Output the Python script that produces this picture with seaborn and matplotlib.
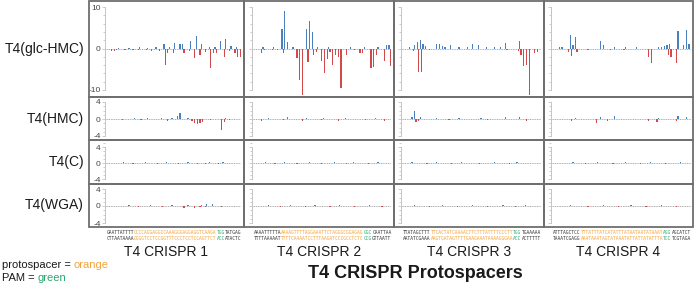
import pandas as pd
import matplotlib
matplotlib.use("Agg")
import matplotlib.pyplot as plt
from matplotlib.patches import Rectangle
from matplotlib.ticker import MultipleLocator
import seaborn as sns

sns.set_theme(style="white")
plt.rcParams["font.family"] = ["Liberation Sans", "DejaVu Sans"]
plt.rcParams["axes.unicode_minus"] = False

N_POS = 50
SAMPLES = ["T4(glc-HMC)", "T4(HMC)", "T4(C)", "T4(WGA)"]
SPACERS = ["T4 CRISPR 1", "T4 CRISPR 2", "T4 CRISPR 3", "T4 CRISPR 4"]

# signal per position, {position: value}; up = blue strand, down = red strand
GLC_UP = [
    {4: 0.2, 8: 0.2, 12: 0.3, 15: 0.2, 18: 0.4, 21: 1.2, 23: 0.4, 25: 1.3, 27: 1.0, 28: 1.1,
     31: 1.9, 33: 3.0, 35: 1.0, 38: 0.3, 40: 0.4, 42: 1.8, 44: 2.3, 46: 0.5, 48: 0.3},
    {3: 0.3, 7: 0.3, 10: 4.7, 11: 9.0, 12: 1.5, 14: 0.4, 19: 4.6, 20: 6.6, 21: 3.9, 23: 0.4,
     27: 0.3, 35: 0.3, 40: 0.4, 45: 0.3, 48: 0.8, 49: 0.8},
    {2: 0.3, 4: 0.8, 5: 1.5, 6: 2.1, 7: 1.0, 8: 0.5, 12: 1.0, 13: 1.0, 14: 0.6, 15: 0.4,
     17: 0.8, 20: 0.3, 23: 0.3, 25: 1.1, 27: 0.8, 30: 0.3, 33: 0.4, 35: 0.4, 37: 1.4, 42: 1.9},
    {2: 0.3, 3: 0.3, 6: 3.3, 7: 0.8, 8: 2.7, 17: 1.9, 18: 0.8, 22: 0.3, 26: 0.3, 30: 0.3,
     38: 0.3, 39: 0.3, 40: 0.5, 41: 0.8, 42: 1.0, 45: 4.1, 47: 0.8, 48: 4.4, 49: 1.0},
]
GLC_DOWN = [
    {1: -0.6, 2: -0.5, 3: -0.3, 6: -0.3, 9: -0.4, 11: -0.3, 14: -0.4, 16: -0.5, 19: -0.6,
     21: -4.0, 22: -1.0, 24: -1.0, 28: -1.0, 30: -0.5, 32: -2.4, 34: -1.5, 36: -0.8,
     38: -4.7, 39: -1.2, 40: -1.0, 43: -2.0, 45: -0.6, 47: -1.0, 48: -2.0, 49: -2.0},
    {2: -1.0, 3: -0.4, 6: -0.3, 8: -0.4, 10: -1.0, 15: -2.2, 16: -7.7, 17: -11.5, 19: -3.3,
     21: -1.5, 22: -0.8, 24: -3.0, 25: -6.0, 26: -2.5, 27: -0.8, 28: -3.9, 29: -1.5,
     30: -2.0, 31: -9.5, 33: -1.5, 36: -0.4, 38: -1.0, 39: -1.0, 42: -4.7, 43: -4.5,
     44: -1.5, 47: -2.9, 49: -4.3},
    {3: -0.5, 5: -5.7, 6: -5.7, 9: -0.3, 37: -0.3, 41: -0.5, 42: -1.5, 43: -4.3, 44: -4.0,
     45: -11.7, 47: -1.0, 48: -0.8},
    {5: -0.8, 6: -1.9, 8: -0.8, 12: -0.3, 20: -0.3, 25: -0.3, 34: -2.1, 35: -3.6, 41: -1.5,
     42: -2.0, 44: -3.4},
]
HMC_UP = [
    {10: 0.2, 15: 0.2, 20: 0.2, 24: 0.3, 26: 0.7, 27: 1.4, 30: 0.3, 44: 0.3},
    {5: 0.3, 12: 0.4, 19: 0.3, 25: 0.3, 33: 0.3, 44: 0.3},
    {3: 0.4, 4: 1.8, 6: 0.4, 12: 0.3, 20: 0.3, 28: 0.3, 37: 0.4, 42: 0.4},
    {8: 0.3, 17: 0.4, 22: 0.6, 38: 0.3, 45: 0.6, 48: 0.4},
]
HMC_DOWN = [
    {5: -0.2, 12: -0.2, 22: -0.4, 31: -0.5, 32: -1.0, 33: -1.1, 34: -1.0, 35: -0.6,
     38: -0.3, 42: -2.5, 43: -0.8, 45: -0.3},
    {2: -0.5, 10: -0.3, 17: -0.4, 24: -0.3, 30: -0.4, 40: -0.3, 47: -0.4},
    {4: -0.6, 5: -0.4, 16: -0.3, 30: -0.3, 44: -0.4},
    {6: -0.4, 15: -1.0, 19: -0.4, 34: -0.5, 37: -0.6, 44: -0.4},
]
C_UP = [
    {6: 0.2, 14: 0.2, 22: 0.2, 30: 0.3, 38: 0.3, 43: 0.2},
    {4: 0.2, 11: 0.2, 20: 0.2, 29: 0.3, 36: 0.2, 45: 0.2},
    {3: 0.2, 12: 0.2, 21: 0.2, 33: 0.2, 41: 0.2},
    {7: 0.2, 16: 0.2, 26: 0.3, 35: 0.2, 46: 0.2},
]
C_DOWN = [
    {9: -0.2, 18: -0.2, 26: -0.3, 33: -0.3, 36: -0.3, 41: -0.2},
    {7: -0.2, 15: -0.2, 24: -0.2, 33: -0.3, 41: -0.2},
    {8: -0.2, 17: -0.2, 27: -0.2, 38: -0.2},
    {11: -0.2, 21: -0.2, 31: -0.3, 40: -0.2},
]
WGA_UP = [
    {8: 0.2, 16: 0.2, 24: 0.3, 30: 0.3, 35: 0.3, 37: 0.4, 39: 0.4},
    {5: 0.2, 13: 0.2, 22: 0.3, 31: 0.2, 42: 0.2},
    {4: 0.2, 14: 0.2, 25: 0.2, 36: 0.2, 44: 0.2},
    {6: 0.2, 18: 0.2, 28: 0.3, 39: 0.2},
]
WGA_DOWN = [
    {11: -0.3, 20: -0.3, 28: -0.4, 32: -0.4, 34: -0.3, 36: -0.3, 42: -0.2},
    {9: -0.2, 18: -0.3, 27: -0.3, 36: -0.3, 46: -0.2},
    {9: -0.2, 19: -0.2, 30: -0.3, 40: -0.2},
    {12: -0.2, 23: -0.3, 33: -0.2, 44: -0.2},
]
ROWS_UP = [GLC_UP, HMC_UP, C_UP, WGA_UP]
ROWS_DOWN = [GLC_DOWN, HMC_DOWN, C_DOWN, WGA_DOWN]
ROW_TICK = [10, 4, 4, 4]

# (flank, protospacer, PAM, flank)
SEQ_TOP = [
    ("GAATTATTTT", "CCCCAGGAGGCCAAAGGGAGGAGGTCAAGA", "TGG", "TATGAG"),
    ("AAAATTTTTA", "AAAAGTTTTAGGAAATTCTAGGGCGGAGAG", "GGC", "CAATTAA"),
    ("TTATAGCTTT", "TTCACTATCAAAACTTCTTTATTTTCCCTT", "TGG", "TGAAAAA"),
    ("ATTTAGCTCC", "TTTATTTATCATATTTATAATAATATAAAT", "AGG", "AGCATCT"),
]
SEQ_BOT = [
    ("CTTAATAAAA", "GGGGTCCTCCGGTTTCCCTCCTCCAGTTCT", "ACC", "ATACTC"),
    ("TTTTAAAAAT", "TTTTCAAAATCCTTTAAGATCCCGCCTCTC", "CCG", "GTTAATT"),
    ("AATATCGAAA", "AAGTGATAGTTTTGAAGAAATAAAAGGGAA", "ACC", "ACTTTTT"),
    ("TAAATCGAGG", "AAATAAATAGTATAAATATTATTATATTTA", "TCC", "TCGTAGA"),
]

BLUE = "#4a7fc0"
RED = "#d2494c"
ORANGE = "#f2a43c"
GREEN = "#2aa870"
DARK = "#333333"
FRAME = "#6e6e6e"

W, H = 694, 287
COL_EDGES = [89, 244, 394, 544, 693]
ROW_EDGES = [1, 97, 140, 184, 227]
AX_LEFT = [105, 252, 401, 551]
AX_RIGHT = [241, 391, 541, 691]
TICK_Y = [(7, 90), (102, 136), (147, 179), (189, 223)]


def fx(px):
    return px / W


def fy(py):
    return 1 - py / H


def panel_frame(up, down):
    rows = []
    for p in range(N_POS):
        rows.append({"pos": p, "val": up.get(p, 0.0), "strand": "up"})
        rows.append({"pos": p, "val": down.get(p, 0.0), "strand": "down"})
    return pd.DataFrame(rows)


fig = plt.figure(figsize=(W / 100, H / 100), dpi=100)

for r in range(4):
    top, bot = ROW_EDGES[r], ROW_EDGES[r + 1]
    yu, yl = TICK_Y[r]
    vu = ROW_TICK[r]
    scale = (yl - yu) / (2 * vu)
    zero = (yu + yl) / 2
    a_top, a_bot = top + 2, bot - 2
    for c in range(4):
        x0, x1 = COL_EDGES[c], COL_EDGES[c + 1]
        fig.add_artist(Rectangle((fx(x0), fy(bot)), fx(x1 - x0), (bot - top) / H,
                                 transform=fig.transFigure, fill=False,
                                 ec=FRAME, lw=1.3, zorder=5))
        ax = fig.add_axes([fx(AX_LEFT[c]), fy(a_bot),
                           fx(AX_RIGHT[c] - AX_LEFT[c]), (a_bot - a_top) / H])
        ax.patch.set_alpha(0)
        df = panel_frame(ROWS_UP[r][c], ROWS_DOWN[r][c])
        sns.barplot(data=df, x="pos", y="val", hue="strand", hue_order=["up", "down"],
                    palette={"up": BLUE, "down": RED}, saturation=1, width=0.9,
                    dodge=True, errorbar=None, legend=False, linewidth=0, ax=ax)
        ax.axhline(0, color="#8c8c8c", lw=0.5, ls=(0, (1.5, 1)), zorder=0)
        ax.set_xlim(-1.2, N_POS - 0.5)
        ax.set_ylim(-(a_bot - zero) / scale, (zero - a_top) / scale)
        ax.set_xlabel("")
        ax.set_ylabel("")
        ax.set_xticks([])
        for s in ["top", "right", "bottom"]:
            ax.spines[s].set_visible(False)
        ax.spines["left"].set_color("#c4c4c4")
        ax.spines["left"].set_linewidth(0.7)
        ax.spines["left"].set_bounds(-vu, vu)
        ax.yaxis.set_major_locator(MultipleLocator(vu))
        ax.yaxis.set_minor_locator(MultipleLocator(2 if vu == 10 else 1))
        ax.tick_params(axis="y", which="both", left=True, direction="out",
                       color="#c4c4c4", width=0.6, labelsize=6,
                       labelcolor="#444444", pad=1, labelleft=(c == 0))
        ax.tick_params(axis="y", which="major", length=2)
        ax.tick_params(axis="y", which="minor", length=1.2)
    fig.text(fx(84), fy((top + bot) / 2), SAMPLES[r], ha="right", va="center",
             fontsize=10, color="#1a1a1a")

# sequences under each column
char_px = 0.602 * 3.3 * 100 / 72
for c in range(4):
    center = (AX_LEFT[c] + 2 + AX_RIGHT[c]) / 2
    for seq, yy in ((SEQ_TOP[c], 232), (SEQ_BOT[c], 238)):
        total = sum(len(s) for s in seq)
        x = center - total * char_px / 2
        for part, col in zip(seq, [DARK, ORANGE, GREEN, DARK]):
            fig.text(fx(x), fy(yy), part, ha="left", va="center", color=col,
                     fontsize=3.3, family="DejaVu Sans Mono")
            x += len(part) * char_px
    fig.text(fx((COL_EDGES[c] + COL_EDGES[c + 1]) / 2), fy(252), SPACERS[c],
             ha="center", va="center", fontsize=10, color="#1a1a1a")

fig.text(fx(415), fy(273), "T4 CRISPR Protospacers", ha="center", va="center",
         fontsize=13, weight="bold", color="#1a1a1a")

# legend for the sequence colours
renderer = fig.canvas.get_renderer()
for label, word, col, yy in (("protospacer = ", "orange", ORANGE, 265),
                             ("PAM = ", "green", GREEN, 278)):
    t = fig.text(fx(2), fy(yy), label, ha="left", va="center", fontsize=8,
                 color="#1a1a1a")
    bb = t.get_window_extent(renderer)
    fig.text(bb.x1 / W, fy(yy), word, ha="left", va="center", fontsize=8, color=col)

fig.savefig("out.png", dpi=100)
